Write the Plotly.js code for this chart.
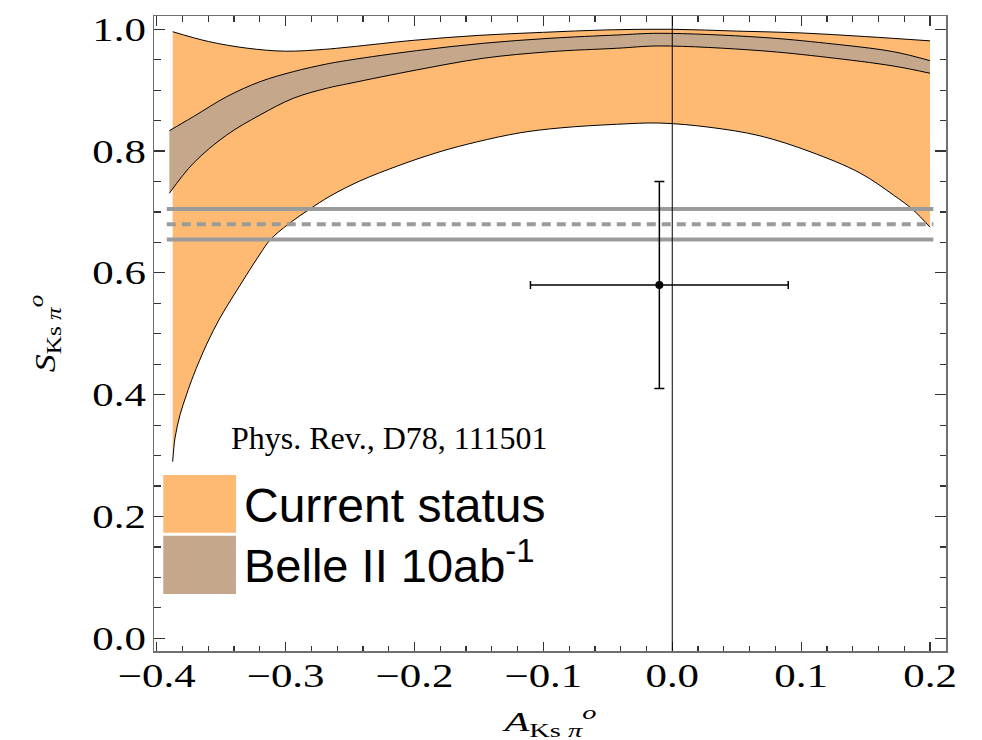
<!DOCTYPE html>
<html>
<head>
<meta charset="utf-8">
<script src="https://cdn.plot.ly/plotly-3.0.1.min.js"></script>
<style>
  html, body { margin: 0; padding: 0; background: #fff; }
  #chart { width: 982px; height: 740px; }
</style>
</head>
<body>
<div id="chart"></div>
<script>
// Current status band: lower and upper boundary of S vs A
const curX_lo = [-0.3876, -0.3858, -0.3819, -0.3767, -0.3716, -0.3612, -0.3509, -0.3406, -0.3302, -0.3198, -0.3121, -0.2979, -0.2811, -0.2655, -0.2423, -0.2112, -0.1802, -0.1517, -0.1181, -0.0871, -0.0431, -0.0095, 0.0293, 0.0681, 0.1069, 0.1457, 0.1715, 0.1871, 0.2];
const curS_lo = [0.290, 0.329, 0.367, 0.401, 0.431, 0.483, 0.526, 0.562, 0.597, 0.631, 0.654, 0.680, 0.705, 0.726, 0.751, 0.777, 0.799, 0.815, 0.830, 0.838, 0.844, 0.846, 0.839, 0.825, 0.799, 0.764, 0.728, 0.703, 0.675];
const curX_hi = [-0.3876, -0.36, -0.33, -0.30, -0.27, -0.25, -0.20, -0.15, -0.10, -0.05, 0.0, 0.05, 0.10, 0.15, 0.20];
const curS_hi = [0.996, 0.980, 0.969, 0.964, 0.967, 0.971, 0.982, 0.990, 0.995, 0.999, 1.000, 0.997, 0.994, 0.988, 0.981];

// Belle II 10 ab^-1 projection band
const belX = [-0.3902, -0.3716, -0.3457, -0.3198, -0.2940, -0.2681, -0.2500, -0.1983, -0.1466, -0.0948, -0.0431, -0.0095, 0.0681, 0.1198, 0.1715, 0.2];
const belS_hi = [0.8335, 0.8565, 0.8893, 0.9140, 0.9304, 0.9430, 0.9496, 0.9649, 0.9770, 0.9852, 0.9906, 0.9934, 0.9869, 0.9770, 0.9632, 0.9484];
const belS_lo = [0.7307, 0.7800, 0.8264, 0.8593, 0.8867, 0.9031, 0.9113, 0.9332, 0.9524, 0.9632, 0.9688, 0.9726, 0.9649, 0.9540, 0.9397, 0.9278];

// Horizontal reference band of S (lower edge, central value, upper edge)
const refX = [-0.3922, 0.2026];
const refS = [0.655, 0.68, 0.705];

// Measured point with errors
const measA = [-0.01];
const measS = [0.58];
const measErrA = [0.10];
const measErrS = [0.17];

// Axis ticks
const xTickVals = [-0.4, -0.3, -0.2, -0.1, 0.0, 0.1, 0.2];
const xTickText = ['\u22120.4', '\u22120.3', '\u22120.2', '\u22120.1', '0.0', '0.1', '0.2'];
const yTickVals = [0.0, 0.2, 0.4, 0.6, 0.8, 1.0];
const yTickText = ['0.0', '0.2', '0.4', '0.6', '0.8', '1.0'];

// Legend entries
const legendLabels = ['Current status', 'Belle II 10ab<sup>-1</sup>'];
const sourceNote = 'Phys. Rev., D78, 111501';

const ORANGE = 'rgb(254,185,114)';
const BROWN = 'rgb(197,168,140)';
const GREY = 'rgb(155,155,155)';
const SERIF = '"Liberation Serif", "Times New Roman", serif';
const SANS = '"Liberation Sans", Arial, sans-serif';

const edge = { color: '#000', width: 1, shape: 'spline', smoothing: 1 };

const traces = [
  { x: curX_lo, y: curS_lo, mode: 'lines', line: edge, hoverinfo: 'skip', showlegend: false },
  { x: curX_hi, y: curS_hi, mode: 'lines', line: edge, fill: 'tonexty', fillcolor: ORANGE, hoverinfo: 'skip', showlegend: false },
  { x: belX, y: belS_lo, mode: 'lines', line: edge, hoverinfo: 'skip', showlegend: false },
  { x: belX, y: belS_hi, mode: 'lines', line: edge, fill: 'tonexty', fillcolor: BROWN, hoverinfo: 'skip', showlegend: false },
  { x: refX, y: [refS[0], refS[0]], mode: 'lines', line: { color: GREY, width: 4 }, hoverinfo: 'skip', showlegend: false },
  { x: refX, y: [refS[1], refS[1]], mode: 'lines', line: { color: GREY, width: 4, dash: '9px,6px' }, hoverinfo: 'skip', showlegend: false },
  { x: refX, y: [refS[2], refS[2]], mode: 'lines', line: { color: GREY, width: 4 }, hoverinfo: 'skip', showlegend: false },
  {
    x: measA, y: measS, mode: 'markers',
    marker: { color: '#000', size: 8 },
    error_x: { type: 'data', array: measErrA, color: '#000', thickness: 1.5, width: 4 },
    error_y: { type: 'data', array: measErrS, color: '#000', thickness: 1.5, width: 5 },
    showlegend: false
  }
];

const axisCommon = {
  showline: true, linecolor: '#707070', linewidth: 1.5, mirror: 'allticks',
  ticks: 'inside', tickcolor: '#333', tickwidth: 1.2,
  showgrid: false, zeroline: false,
  tickfont: { family: SERIF, size: 33, color: '#000' }
};

const layout = {
  width: 982, height: 740,
  margin: { l: 154, r: 36, t: 16, b: 89 },
  paper_bgcolor: '#fff', plot_bgcolor: '#fff',
  showlegend: false,
  xaxis: Object.assign({}, axisCommon, {
    range: [-0.4021, 0.2124],
    tickmode: 'array', tickvals: xTickVals, ticktext: xTickText,
    ticklen: 9.5, ticklabelstandoff: -5,
    minor: { dtick: 0.02, tick0: 0, ticks: 'inside', ticklen: 5.5, tickcolor: '#333', tickwidth: 1.2 },
    title: { text: '<i>A</i><sub>Ks <i>\u03c0</i></sub><sup><i>o</i></sup>', font: { family: SERIF, size: 28, color: '#000' }, standoff: 35 }
  }),
  yaxis: Object.assign({}, axisCommon, {
    range: [-0.0209, 1.0218],
    tickmode: 'array', tickvals: yTickVals, ticktext: yTickText,
    ticklen: 11, ticklabelstandoff: 0,
    minor: { dtick: 0.05, tick0: 0, ticks: 'inside', ticklen: 6.5, tickcolor: '#333', tickwidth: 1.2 },
    title: { text: '<i>S</i><sub>Ks <i>\u03c0</i></sub><sup><i>o</i></sup>', font: { family: SERIF, size: 30, color: '#000' }, standoff: 28 }
  }),
  shapes: [
    // vertical line at A = 0
    { type: 'line', xref: 'x', yref: 'paper', x0: 0, x1: 0, y0: 0, y1: 1, line: { color: '#000', width: 1 }, layer: 'above' },
    // legend swatches
    { type: 'rect', xref: 'paper', yref: 'paper', x0: 0.0117, x1: 0.1035, y0: 0.1863, y1: 0.2772, fillcolor: ORANGE, line: { width: 0 }, layer: 'above' },
    { type: 'rect', xref: 'paper', yref: 'paper', x0: 0.0117, x1: 0.1035, y0: 0.0898, y1: 0.1816, fillcolor: BROWN, line: { width: 0 }, layer: 'above' }
  ],
  annotations: [
    { xref: 'paper', yref: 'paper', x: 0.1111, y: 0.2290, xanchor: 'left', yanchor: 'middle', showarrow: false,
      text: legendLabels[0], font: { family: SANS, size: 48, color: '#000' } },
    { xref: 'paper', yref: 'paper', x: 0.1111, y: 0.1403, xanchor: 'left', yanchor: 'middle', showarrow: false,
      text: legendLabels[1], font: { family: SANS, size: 47, color: '#000' } },
    { xref: 'paper', yref: 'paper', x: 0.0953, y: 0.3357, xanchor: 'left', yanchor: 'middle', showarrow: false,
      text: sourceNote, font: { family: SERIF, size: 32, color: '#000' } }
  ]
};

// Stretch a text element about an anchor point (in screen axes), with an optional shift
function stretchEl(el, sx, sy, anchor, dx, dy) {
  const bb = el.getBBox();
  const lx = anchor === 'end' ? bb.x + bb.width : bb.x + bb.width / 2;
  const ly = bb.y + bb.height / 2;
  let px = lx, py = ly;
  const tl = el.transform.baseVal;
  if (tl.numberOfItems) {
    const m = tl.consolidate().matrix;
    px = m.a * lx + m.c * ly + m.e;
    py = m.b * lx + m.d * ly + m.f;
  }
  const orig = el.getAttribute('transform') || '';
  el.setAttribute('transform',
    'translate(' + (px + (dx || 0)) + ',' + (py + (dy || 0)) + ') scale(' + sx + ',' + sy + ') translate(' + (-px) + ',' + (-py) + ') ' + orig);
}
function stretch(selector, sx, sy, anchor, dx, dy) {
  document.querySelectorAll(selector).forEach(function (el) { stretchEl(el, sx, sy, anchor, dx, dy); });
}

Plotly.newPlot('chart', traces, layout, { displayModeBar: false, staticPlot: true }).then(function () {
  stretch('#chart .xtick text', 1.3, 1, 'middle');
  stretch('#chart .ytick text', 1.3, 1, 'end');
  stretch('#chart .g-xtitle text', 1.45, 1, 'middle', 0, 1);
  // y title: taller along its reading direction, centred left of the tick labels
  const yt = document.querySelector('#chart .g-ytitle text');
  if (yt) {
    const host = document.querySelector('#chart').getBoundingClientRect();
    const r0 = yt.getBoundingClientRect();
    const cx = r0.left - host.left + r0.width / 2;
    stretchEl(yt, 1, 1.2, 'middle', 45 - cx, 0);
  }
});
</script>
</body>
</html>
